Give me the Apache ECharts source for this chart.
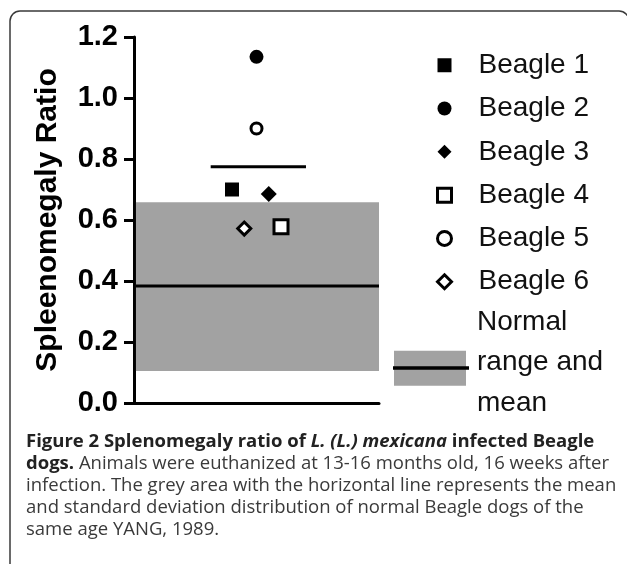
<!DOCTYPE html>
<html>
<head>
<meta charset="utf-8">
<script src="https://cdn.jsdelivr.net/npm/echarts@6/dist/echarts.min.js"></script>
<style>
html,body{margin:0;padding:0;background:#fff;}
#chart{width:627px;height:564px;}
</style>
</head>
<body>
<div id="chart"></div>
<script>
// ---- data ----
const beagleNames = ['Beagle 1','Beagle 2','Beagle 3','Beagle 4','Beagle 5','Beagle 6'];
const beagleValues = [0.70, 1.135, 0.685, 0.578, 0.90, 0.572];
const beagleJitter = [-0.10, 0, 0.05, 0.10, 0, -0.05];   // horizontal scatter offsets (x-axis units)
const infectedMean = 0.775;
const normalLow = 0.105;
const normalHigh = 0.658;
const normalMean = 0.384;
const yTicks = [0.0, 0.2, 0.4, 0.6, 0.8, 1.0, 1.2];
const normalLabel = 'Normal\nrange and\nmean';
const yAxisTitle = 'Spleenomegaly Ratio';
const captionLines = [
  '{b|Figure 2 Splenomegaly ratio of }{bi|L. (L.) mexicana}{b| infected Beagle}',
  '{b|dogs.}{r| Animals were euthanized at 13-16 months old, 16 weeks after}',
  '{r|infection. The grey area with the horizontal line represents the mean}',
  '{r|and standard deviation distribution of normal Beagle dogs of the}',
  '{r|same age YANG, 1989.}'
];

// ---- styles ----
const symbolDefs = [
  {symbol:'rect', size:14, fill:'#000', border:0},
  {symbol:'circle', size:14, fill:'#000', border:0},
  {symbol:'diamond', size:16, fill:'#000', border:0},
  {symbol:'rect', size:14, fill:'#fff', border:3},
  {symbol:'circle', size:11, fill:'#fff', border:3},
  {symbol:'diamond', size:13, fill:'#fff', border:3}
];
const center = 0.5;
const greyCol = '#a2a2a2';

const chart = echarts.init(document.getElementById('chart'), null, {renderer:'canvas'});

const series = [];
// normal range band + mean
series.push({
  name: 'Normal range',
  type: 'line',
  xAxisIndex: 1,
  data: [[0.008, normalMean], [1, normalMean]],
  symbol: 'none',
  lineStyle: {color:'#000', width:3},
  z: 1,
  silent: true,
  markArea: {
    silent: true,
    itemStyle: {color: greyCol},
    data: [[{xAxis:0.008, yAxis:normalLow}, {xAxis:1, yAxis:normalHigh}]]
  }
});
// infected mean line
series.push({
  name: 'Infected mean',
  type: 'line',
  xAxisIndex: 1,
  data: [[center-0.187, infectedMean], [center+0.202, infectedMean]],
  symbol: 'none',
  lineStyle: {color:'#000', width:3},
  z: 2,
  silent: true
});
beagleNames.forEach((n, i) => {
  const s = symbolDefs[i];
  series.push({
    name: n,
    type: 'scatter',
    xAxisIndex: 1,
    symbol: s.symbol,
    symbolSize: s.size,
    itemStyle: {color: s.fill, borderColor:'#000', borderWidth: s.border, opacity:1},
    data: [[center + beagleJitter[i], beagleValues[i]]],
    z: 5
  });
});

const legendIconSvg = 'data:image/svg+xml;charset=utf-8,' + encodeURIComponent(
  '<svg xmlns="http://www.w3.org/2000/svg" width="76" height="48" viewBox="0 0 76 48">' +
  '<rect x="1" y="12" width="72" height="35" fill="' + greyCol + '"/>' +
  '<rect x="0" y="27.5" width="76" height="3.5" fill="#000"/></svg>');

const option = {
  animation: false,
  backgroundColor: '#fff',
  grid: {left:134, top:37, right:248, bottom:161, containLabel:false},
  xAxis: [
    {
      type: 'category',
      data: [''],
      boundaryGap: true,
      axisLine: {lineStyle:{color:'#000', width:3}},
      axisTick: {alignWithLabel:true, length:15, lineStyle:{color:'#000', width:3}},
      axisLabel: {show:false},
      splitLine: {show:false}
    },
    {
      type: 'value', min:0, max:1, show:false
    }
  ],
  yAxis: {
    type: 'value',
    min: yTicks[0], max: yTicks[yTicks.length-1], interval: 0.2,
    name: yAxisTitle,
    nameLocation: 'middle',
    nameGap: 71,
    nameTextStyle: {fontFamily:'Liberation Sans, Arial, sans-serif', fontWeight:'bold', fontSize:30, color:'#000'},
    axisLine: {show:true, lineStyle:{color:'#000', width:3}},
    axisTick: {show:true, length:10, lineStyle:{color:'#000', width:3}},
    axisLabel: {
      fontFamily:'Liberation Sans, Arial, sans-serif', fontWeight:'bold', fontSize:29, color:'#000', margin:16,
      formatter: v => v.toFixed(1)
    },
    splitLine: {show:false}
  },
  legend: [
    {
      orient: 'vertical',
      left: 436, top: 45,
      padding: 0,
      itemWidth: 14, itemHeight: 14,
      itemGap: 2.8,
      selectedMode: false,
      textStyle: {fontFamily:'Liberation Sans, Arial, sans-serif', fontSize:28, color:'#111', lineHeight:40.5, padding:[0,0,0,22]},
      data: beagleNames.map((n,i)=>({
        name: n,
        icon: symbolDefs[i].symbol,
        itemStyle: {color: symbolDefs[i].fill, borderColor:'#000', borderWidth: symbolDefs[i].border}
      }))
    },
    {
      orient: 'vertical',
      left: 393, top: 302,
      padding: 0,
      itemWidth: 76, itemHeight: 48,
      selectedMode: false,
      formatter: () => normalLabel,
      textStyle: {fontFamily:'Liberation Sans, Arial, sans-serif', fontSize:28, color:'#111', lineHeight:40.5, padding:[0,0,0,3]},
      data: [{name:'Normal range', icon:'image://' + legendIconSvg}]
    }
  ],
  graphic: [
    {
      type:'rect', silent:true, z:100,
      shape:{x:10, y:11, width:619, height:620, r:10},
      style:{fill:'none', stroke:'#3a3a3a', lineWidth:1.5}
    }
  ].concat(captionLines.map((t, i) => ({
    type:'text', silent:true, z:100,
    left: 26, top: 432 + i*22,
    style:{
      text: t,
      font: '18.5px "Open Sans"',
      fill:'#333',
      rich:{
        b:{fontFamily:'Open Sans', fontWeight:'bold', fontSize:18.5, fill:'#222'},
        bi:{fontFamily:'Open Sans', fontWeight:'bold', fontStyle:'italic', fontSize:18.5, fill:'#222'},
        r:{fontFamily:'Open Sans', fontSize:18.5, fill:'#3a3a3a'}
      }
    }
  }))),
  series: series
};
chart.setOption(option);
</script>
</body>
</html>
